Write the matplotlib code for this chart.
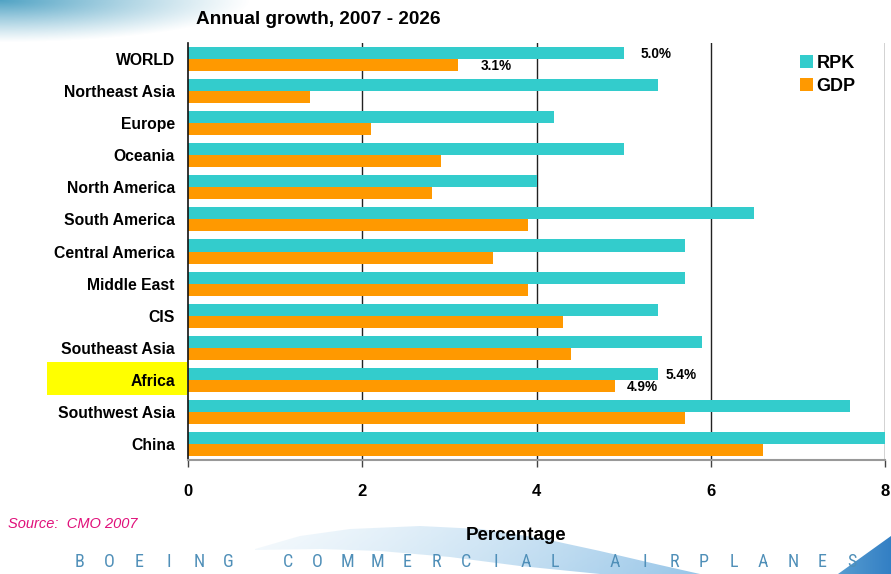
import numpy as np
import matplotlib
matplotlib.use("Agg")
import matplotlib.pyplot as plt
from matplotlib.patches import Rectangle, Polygon
from matplotlib import font_manager

plt.rcParams['font.family'] = ['Liberation Sans', 'DejaVu Sans']

# ---------------- data ----------------
regions = ["WORLD", "Northeast Asia", "Europe", "Oceania", "North America",
           "South America", "Central America", "Middle East", "CIS",
           "Southeast Asia", "Africa", "Southwest Asia", "China"]
rpk = [5.0, 5.4, 4.2, 5.0, 4.0, 6.5, 5.7, 5.7, 5.4, 5.9, 5.4, 7.6, 8.0]
gdp = [3.1, 1.4, 2.1, 2.9, 2.8, 3.9, 3.5, 3.9, 4.3, 4.4, 4.9, 5.7, 6.6]
xticks = [0, 2, 4, 6, 8]
highlight = "Africa"
labelled = {"WORLD": ("5.0%", "3.1%"), "Africa": ("5.4%", "4.9%")}

# ---------------- style ----------------
C_RPK = "#33CCCC"
C_GDP = "#FF9900"
W, H = 891, 574

avail = {f.name for f in font_manager.fontManager.ttflist}
brand_family = "Liberation Sans"
for cand in ["Liberation Sans Narrow", "Roboto Condensed", "Open Sans Condensed"]:
    if cand in avail:
        brand_family = cand
        break

fig = plt.figure(figsize=(W / 100, H / 100), dpi=100)

# background decoration axes (pixel coordinates)
bg = fig.add_axes([0, 0, 1, 1], zorder=0)
bg.set_xlim(0, W)
bg.set_ylim(H, 0)
bg.axis("off")

# top-left blue glow
yy, xx = np.mgrid[0:60, 0:320]
d = np.sqrt((xx / 250.0) ** 2 + (yy / 42.0) ** 2)
alpha = np.clip(1.0 - d, 0, 1) ** 1.1
img = np.zeros((60, 320, 4))
img[..., 0] = 0.28
img[..., 1] = 0.62
img[..., 2] = 0.76
img[..., 3] = alpha * 0.95
bg.imshow(img, extent=[0, 320, 60, 0], aspect="auto", zorder=0)

# bottom swoosh band
upper = [(255, 549), (300, 536), (350, 529), (420, 526), (480, 529), (540, 538),
         (600, 551), (660, 565), (700, 574)]
lower = [(600, 574), (520, 566), (450, 557), (380, 551), (320, 549), (255, 550)]
poly = Polygon(upper + lower, closed=True, transform=bg.transData)
sw = np.zeros((50, 460, 4))
sx = np.linspace(0, 1, 460)[None, :]
sy = np.linspace(0, 1, 50)[:, None]
sw[..., 0] = 0.62 - 0.25 * sx
sw[..., 1] = 0.80 - 0.15 * sx
sw[..., 2] = 0.92 - 0.06 * sx
sw[..., 3] = np.clip(0.08 + 0.5 * sx + 0.08 * sy, 0, 1)
im = bg.imshow(sw, extent=[250, 710, 574, 524], aspect="auto", zorder=0)
im.set_clip_path(poly)
# darker right tip
tip = Polygon([[838, 574], [891, 536], [891, 574]], closed=True,
              transform=bg.transData)
tg = np.zeros((40, 60, 4))
tx = np.linspace(0, 1, 60)[None, :]
tg[..., 0] = 0.35 - 0.15 * tx
tg[..., 1] = 0.62 - 0.12 * tx
tg[..., 2] = 0.82 - 0.05 * tx
tg[..., 3] = 1.0
im2 = bg.imshow(tg, extent=[835, 891, 574, 534], aspect="auto", zorder=1)
im2.set_clip_path(tip)

# Africa highlight box
bg.add_patch(Rectangle((47, 362), 140, 33, facecolor="#FFFF00",
                       edgecolor="none", zorder=1))

# ---------------- main chart ----------------
ax = fig.add_axes([188 / W, 1 - 460 / H, (885 - 188) / W, (460 - 43) / H], zorder=2)
ax.patch.set_alpha(0)
y = np.arange(len(regions))
bh = 0.375
ax.barh(y - bh / 2, rpk, height=bh, color=C_RPK, label="RPK", zorder=2)
ax.barh(y + bh / 2, gdp, height=bh, color=C_GDP, label="GDP", zorder=2)

ax.set_xlim(0, 8)
ax.set_ylim(len(regions) - 0.5, -0.5)
ax.set_xticks(xticks)
ax.set_xticklabels([str(v) for v in xticks], fontsize=12, fontweight="bold")
ax.tick_params(axis="x", direction="out", length=5, width=1, color="#444444", pad=12)
ax.set_yticks(y)
ax.set_yticklabels(regions, fontsize=11.3, fontweight="bold")
ax.tick_params(axis="y", length=0, pad=9.4)
for xv in xticks[1:]:
    ax.axvline(xv, color="#222222", lw=1, zorder=1)
for s in ["top", "right"]:
    ax.spines[s].set_visible(False)
ax.spines["left"].set_color("#111111")
ax.spines["left"].set_linewidth(1.2)
ax.spines["bottom"].set_color("#999999")
ax.spines["bottom"].set_linewidth(1.5)

# value labels
offs = {"WORLD": (17, 23), "Africa": (7, 12)}
for name, (lr, lg) in labelled.items():
    i = regions.index(name)
    o1, o2 = offs[name]
    ax.annotate(lr, (rpk[i], i - bh / 2), xytext=(o1, -1), textcoords="offset pixels",
                ha="left", va="center", fontsize=9.8, fontweight="bold", zorder=3)
    ax.annotate(lg, (gdp[i], i + bh / 2), xytext=(o2, -1), textcoords="offset pixels",
                ha="left", va="center", fontsize=9.8, fontweight="bold", zorder=3)

# title and axis label
fig.text(196 / W, 1 - 19 / H, "Annual growth, 2007 - 2026", ha="left", va="center",
         fontsize=13.7, fontweight="bold")
fig.text(516 / W, 1 - 535 / H, "Percentage", ha="center", va="center",
         fontsize=13.5, fontweight="bold", zorder=5)

# legend
fig.legend(loc="upper left", bbox_to_anchor=(800 / W, 1 - 55 / H), frameon=False,
           borderpad=0, borderaxespad=0,
           handlelength=0.72, handleheight=0.72, handletextpad=0.2, labelspacing=0.32,
           prop={"size": 13, "weight": "bold"})

# source
fig.text(8 / W, 1 - 524 / H, "Source:  CMO 2007", ha="left", va="center",
         fontsize=10.5, style="italic", color="#E0107A")

# Boeing wordmark
brand = "BOEING COMMERCIAL AIRPLANES"
for k, ch in enumerate(brand):
    if ch != " ":
        fig.text((80 + k * 29.7) / W, 1 - 562 / H, ch, ha="center", va="center",
                 fontsize=13, color="#4F8FB8", family=brand_family, zorder=5)

fig.savefig("out.png", dpi=100)
